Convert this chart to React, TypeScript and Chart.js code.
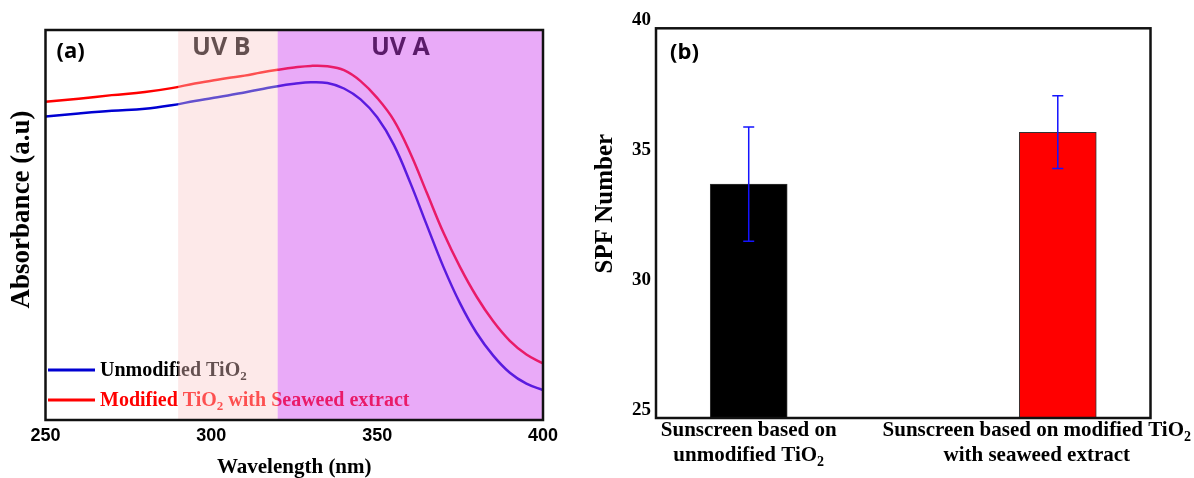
import React, { useEffect, useRef } from "react";
import { Chart, registerables } from "chart.js";

Chart.register(...registerables);

// ---------- Panel (a): UV-Vis absorbance ----------
const wavelengths = [250, 260, 270, 280, 288, 295, 300, 305, 310, 315, 320, 325, 330, 335, 340, 345, 350, 355, 360, 365, 370, 375, 380, 385, 390, 395, 400];
const absUnmodified = [77.8, 78.6, 79.3, 79.8, 80.7, 81.8, 82.5, 83.2, 84.0, 84.8, 85.6, 86.2, 86.6, 86.4, 85.0, 82.2, 77.6, 70.6, 60.8, 49.9, 39.2, 29.9, 22.3, 16.5, 12.1, 9.3, 7.7];
const absModified = [81.6, 82.4, 83.3, 84.1, 85.1, 86.3, 87.0, 87.7, 88.3, 89.1, 89.8, 90.4, 90.8, 90.7, 89.7, 86.9, 82.6, 76.9, 68.4, 58.2, 48.0, 39.2, 31.6, 25.3, 20.3, 16.8, 14.5];
const seriesLabels = ["Unmodified TiO₂", "Modified TiO₂ with Seaweed extract"];
const seriesColors = ["#0000d2", "#ff0000"];
const legendTextColors = ["#000000", "#ff0000"];
const bandLabels = ["UV B", "UV A"];
const bandStart = [290, 320];
const bandEnd = [320, 400];
const bandLabelAt = [303, 357];
const bandColors = ["rgba(250,200,200,0.4)", "rgba(205,62,240,0.44)"];
const xTicksA = [250, 300, 350, 400];

// ---------- Panel (b): SPF ----------
const sunscreenLabels = [
  ["Sunscreen based on", "unmodified TiO₂"],
  ["Sunscreen based on modified TiO₂", "with seaweed extract"],
];
const sunscreenPos = [1, 2];
const spfMean = [34.0, 36.0];
const spfErr = [2.2, 1.4];
const spfColors = ["#000000", "#ff0000"];
const yTicksB = [25, 30, 35, 40];

const SERIF = '"Liberation Serif", "Times New Roman", Times, serif';
const SANS = '"Liberation Sans", Arial, sans-serif';
const CAL = '"Open Sans", "Noto Sans", sans-serif';

function richSegments(text: string) {
  const parts = text.split("₂");
  const segs: { t: string; sub: boolean; w: number }[] = [];
  parts.forEach((p, i) => {
    if (p) segs.push({ t: p, sub: false, w: 0 });
    if (i < parts.length - 1) segs.push({ t: "2", sub: true, w: 0 });
  });
  return segs;
}

function measureRich(ctx: CanvasRenderingContext2D, text: string, size: number, family: string) {
  const segs = richSegments(text);
  let total = 0;
  segs.forEach((s) => {
    ctx.font = `bold ${s.sub ? Math.round(size * 0.65) : size}px ${family}`;
    s.w = ctx.measureText(s.t).width;
    total += s.w;
  });
  return { segs, total };
}

function drawRich(
  ctx: CanvasRenderingContext2D,
  text: string,
  x: number,
  y: number,
  size: number,
  family: string,
  color: string,
  align: "left" | "center"
) {
  const { segs, total } = measureRich(ctx, text, size, family);
  let cx = align === "center" ? x - total / 2 : x;
  ctx.fillStyle = color;
  ctx.textAlign = "left";
  ctx.textBaseline = "middle";
  segs.forEach((s) => {
    ctx.font = `bold ${s.sub ? Math.round(size * 0.65) : size}px ${family}`;
    ctx.fillText(s.t, cx, s.sub ? y + size * 0.3 : y);
    cx += s.w;
  });
}

const panelAPlugin = {
  id: "panelA",
  afterDatasetsDraw(chart: any) {
    const { ctx, chartArea, scales } = chart;
    const xs = scales.x;
    ctx.save();
    // legend
    seriesLabels.forEach((lab, i) => {
      const y = chartArea.bottom - 50 + i * 30;
      ctx.strokeStyle = seriesColors[i];
      ctx.lineWidth = 3;
      ctx.beginPath();
      ctx.moveTo(chartArea.left + 2.5, y);
      ctx.lineTo(chartArea.left + 49.5, y);
      ctx.stroke();
      drawRich(ctx, lab, chartArea.left + 54.5, y + 1, 20, SERIF, legendTextColors[i], "left");
    });
    // band labels (under the translucent overlay)
    bandLabels.forEach((lab, i) => {
      ctx.font = `bold 25px ${CAL}`;
      ctx.fillStyle = "#000";
      ctx.textAlign = "center";
      ctx.textBaseline = "middle";
      ctx.fillText(lab, xs.getPixelForValue(bandLabelAt[i]), chartArea.top + 18);
    });
    // translucent band overlays
    bandStart.forEach((s, i) => {
      const x0 = xs.getPixelForValue(s);
      const x1 = xs.getPixelForValue(bandEnd[i]);
      ctx.fillStyle = bandColors[i];
      ctx.fillRect(x0, chartArea.top, x1 - x0, chartArea.bottom - chartArea.top);
    });
    // panel letter
    ctx.font = `bold 22px ${CAL}`;
    ctx.fillStyle = "#000";
    ctx.textAlign = "left";
    ctx.textBaseline = "middle";
    ctx.fillText("(a)", chartArea.left + 11, chartArea.top + 22);
    ctx.restore();
  },
  afterDraw(chart: any) {
    const { ctx, chartArea } = chart;
    ctx.save();
    ctx.strokeStyle = "#111";
    ctx.lineWidth = 2.5;
    ctx.strokeRect(chartArea.left, chartArea.top, chartArea.right - chartArea.left, chartArea.bottom - chartArea.top);
    ctx.translate(22.5, chartArea.top + 0.46 * (chartArea.bottom - chartArea.top));
    ctx.rotate(-Math.PI / 2);
    ctx.font = `bold 27px ${SERIF}`;
    ctx.fillStyle = "#000";
    ctx.textAlign = "center";
    ctx.textBaseline = "middle";
    ctx.fillText("Absorbance (a.u)", 0, 0);
    ctx.restore();
  },
};

const panelBPlugin = {
  id: "panelB",
  afterDatasetsDraw(chart: any) {
    const { ctx, chartArea, scales } = chart;
    const xs = scales.x;
    const ys = scales.y;
    ctx.save();
    ctx.strokeStyle = "#1414ff";
    ctx.lineWidth = 1.5;
    sunscreenPos.forEach((p, i) => {
      const px = xs.getPixelForValue(p);
      const yt = ys.getPixelForValue(spfMean[i] + spfErr[i]);
      const yb = ys.getPixelForValue(spfMean[i] - spfErr[i]);
      ctx.beginPath();
      ctx.moveTo(px, yt);
      ctx.lineTo(px, yb);
      ctx.moveTo(px - 5.5, yt);
      ctx.lineTo(px + 5.5, yt);
      ctx.moveTo(px - 5.5, yb);
      ctx.lineTo(px + 5.5, yb);
      ctx.stroke();
    });
    ctx.font = `bold 22px ${CAL}`;
    ctx.fillStyle = "#000";
    ctx.textAlign = "left";
    ctx.textBaseline = "middle";
    ctx.fillText("(b)", chartArea.left + 14, chartArea.top + 24);
    ctx.restore();
  },
  afterDraw(chart: any) {
    const { ctx, chartArea, scales, width } = chart;
    const xs = scales.x;
    ctx.save();
    ctx.strokeStyle = "#111";
    ctx.lineWidth = 2.5;
    ctx.strokeRect(chartArea.left, chartArea.top, chartArea.right - chartArea.left, chartArea.bottom - chartArea.top);
    // category labels, kept inside the canvas
    sunscreenLabels.forEach((lines, i) => {
      let maxW = 0;
      lines.forEach((l) => {
        maxW = Math.max(maxW, measureRich(ctx, l, 21, SERIF).total);
      });
      let cx = xs.getPixelForValue(sunscreenPos[i]);
      cx = Math.min(cx, width - maxW / 2 - 3);
      cx = Math.max(cx, maxW / 2 + 3);
      lines.forEach((l, j) => {
        drawRich(ctx, l, cx, chartArea.bottom + 13 + j * 25, 21, SERIF, "#000", "center");
      });
    });
    ctx.translate(chartArea.left - 50, chartArea.top + 0.45 * (chartArea.bottom - chartArea.top));
    ctx.rotate(-Math.PI / 2);
    ctx.font = `bold 25px ${SERIF}`;
    ctx.fillStyle = "#000";
    ctx.textAlign = "center";
    ctx.textBaseline = "middle";
    ctx.fillText("SPF Number", 0, 0);
    ctx.restore();
  },
};

export default function App() {
  const refA = useRef<HTMLCanvasElement>(null);
  const refB = useRef<HTMLCanvasElement>(null);

  useEffect(() => {
    const chartA = new Chart(refA.current as HTMLCanvasElement, {
      type: "line",
      data: {
        datasets: [
          {
            label: seriesLabels[0],
            data: wavelengths.map((w, i) => ({ x: w, y: absUnmodified[i] })),
            borderColor: seriesColors[0],
            borderWidth: 2.5,
            pointRadius: 0,
            tension: 0.4,
            fill: false,
          },
          {
            label: seriesLabels[1],
            data: wavelengths.map((w, i) => ({ x: w, y: absModified[i] })),
            borderColor: seriesColors[1],
            borderWidth: 2.5,
            pointRadius: 0,
            tension: 0.4,
            fill: false,
          },
        ],
      },
      options: {
        responsive: false,
        animation: false,
        layout: { padding: { top: 30, right: 37, left: 0, bottom: 0 } },
        plugins: { legend: { display: false }, tooltip: { enabled: false } },
        scales: {
          x: {
            type: "linear",
            min: 250,
            max: 400,
            afterBuildTicks: (s: any) => {
              s.ticks = xTicksA.map((v) => ({ value: v }));
            },
            ticks: {
              font: { family: SANS, size: 18, weight: "bold" },
              color: "#000",
              padding: 5,
              maxRotation: 0,
            },
            grid: { display: false, drawTicks: false },
            border: { display: false },
            title: {
              display: true,
              text: "Wavelength (nm)",
              color: "#000",
              font: { family: SERIF, size: 21, weight: "bold", lineHeight: 1 },
              padding: 0,
            },
            afterFit: (s: any) => {
              s.height = 58;
            },
          },
          y: {
            min: 0,
            max: 100,
            ticks: { display: false },
            grid: { display: false, drawTicks: false },
            border: { display: false },
            afterFit: (s: any) => {
              s.width = 45.5;
            },
          },
        },
      } as any,
      plugins: [panelAPlugin],
    });

    const chartB = new Chart(refB.current as HTMLCanvasElement, {
      type: "bar",
      data: {
        datasets: [
          {
            data: sunscreenPos.map((p, i) => ({ x: p, y: spfMean[i] })),
            backgroundColor: spfColors,
            borderColor: "#333",
            borderWidth: 1,
            barThickness: 77,
          },
        ],
      },
      options: {
        responsive: false,
        animation: false,
        layout: { padding: { top: 28.3, right: 43.5, left: 0, bottom: 0 } },
        plugins: { legend: { display: false }, tooltip: { enabled: false } },
        scales: {
          x: {
            type: "linear",
            min: 0.7,
            max: 2.3,
            offset: false,
            ticks: { display: false },
            grid: { display: false, drawTicks: false },
            border: { display: false },
            afterFit: (s: any) => {
              s.height = 60;
            },
          },
          y: {
            min: 25,
            max: 40,
            afterBuildTicks: (s: any) => {
              s.ticks = yTicksB.map((v) => ({ value: v }));
            },
            ticks: {
              font: { family: SERIF, size: 19, weight: "bold" },
              color: "#000",
              padding: 5,
              labelOffset: -8,
            },
            grid: { display: false, drawTicks: false },
            border: { display: false },
            afterFit: (s: any) => {
              s.width = 76;
            },
          },
        },
      } as any,
      plugins: [panelBPlugin],
    });

    return () => {
      chartA.destroy();
      chartB.destroy();
    };
  }, []);

  return (
    <div
      style={{
        position: "fixed",
        left: 0,
        top: 0,
        width: 1194,
        height: 478,
        background: "#fff",
        overflow: "hidden",
      }}
    >
      <canvas
        ref={refA}
        width={580}
        height={478}
        style={{ position: "absolute", left: 0, top: 0, width: 580, height: 478 }}
      />
      <canvas
        ref={refB}
        width={614}
        height={478}
        style={{ position: "absolute", left: 580, top: 0, width: 614, height: 478 }}
      />
    </div>
  );
}
